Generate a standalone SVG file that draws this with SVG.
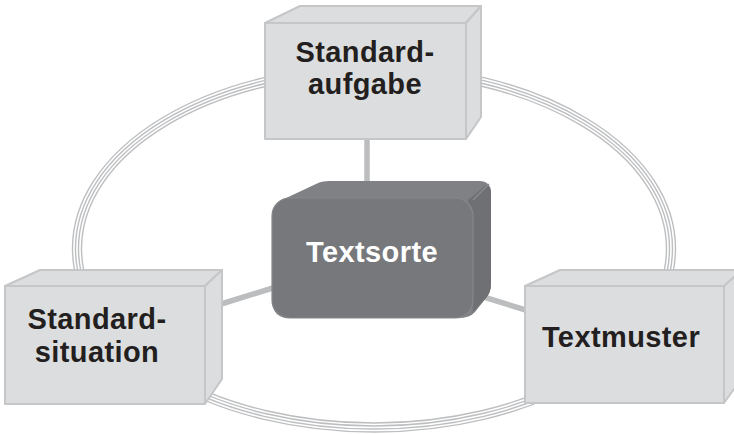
<svg xmlns="http://www.w3.org/2000/svg" width="734" height="435" viewBox="0 0 734 435">
<style>
.ring{fill:none;stroke:#bdbec0;stroke-width:1.4}
.spoke{stroke:#bcbdbf;stroke-width:5.5;fill:none}
.face{fill:#dcdddf;stroke:#c5c6c8;stroke-width:2;stroke-linejoin:round}
.lbl{font-family:"Liberation Sans",Arial,sans-serif;font-weight:bold;font-size:29px;letter-spacing:0.4px;fill:#231f20;text-anchor:middle}
.lblw{font-family:"Liberation Sans",Arial,sans-serif;font-weight:bold;font-size:29px;letter-spacing:0.4px;fill:#ffffff;text-anchor:middle}
</style>
<rect width="734" height="435" fill="#ffffff"/>
<g id="connectors">
  <ellipse class="ring" cx="374" cy="248.5" rx="292.5" ry="174.5"/>
  <ellipse class="ring" cx="374" cy="248.5" rx="295.5" ry="177.5"/>
  <ellipse class="ring" cx="374" cy="248.5" rx="298.5" ry="180.5"/>
  <ellipse class="ring" cx="374" cy="248.5" rx="301.5" ry="183.5"/>
  <line class="spoke" x1="367" y1="135" x2="367" y2="186"/>
  <line class="spoke" x1="218" y1="305" x2="276" y2="287"/>
  <line class="spoke" x1="474" y1="294" x2="529" y2="311"/>
</g>
<g id="standardaufgabe">
  <polygon class="face" points="265,23 300,6 481,6 466,23"/>
  <polygon class="face" points="466,23 481,6 481,117 466,139"/>
  <rect class="face" x="265" y="23" width="201" height="116"/>
  <text class="lbl" x="365" y="62">Standard-</text>
  <text class="lbl" x="365" y="94">aufgabe</text>
</g>
<g id="standardsituation">
  <polygon class="face" points="5,286 40,270 222,270 205,286"/>
  <polygon class="face" points="205,286 222,270 222,379 205,404"/>
  <rect class="face" x="5" y="286" width="200" height="118"/>
  <text class="lbl" x="97" y="329">Standard-</text>
  <text class="lbl" x="97" y="362">situation</text>
</g>
<g id="textmuster">
  <polygon class="face" points="525,286 560,270 742,270 724,286"/>
  <polygon class="face" points="724,286 742,270 742,378 724,403"/>
  <rect class="face" x="525" y="286" width="199" height="117"/>
  <text class="lbl" x="621" y="347">Textmuster</text>
</g>
<g id="textsorte">
  <path d="M290,318 Q272,318 272,300 L272,216 Q272,204 284,199 L316,184 Q321,181 330,181 L479,181 Q491,181 491,193 L491,284 Q491,292 486,298 L475,312 Q470,318 458,318 Z" fill="#808184"/>
  <path d="M468,200 L486,185 Q491,186 491,193 L491,284 Q491,292 486,298 L473,312 Z" fill="#6f7073"/>
  <line x1="473" y1="200" x2="489" y2="184" stroke="#8a8b8e" stroke-width="1.2"/>
  <rect x="272" y="198" width="201" height="120" rx="18" fill="#77787b" stroke="#86878a" stroke-width="1.2"/>
  <text class="lblw" x="372" y="262">Textsorte</text>
</g>
</svg>
